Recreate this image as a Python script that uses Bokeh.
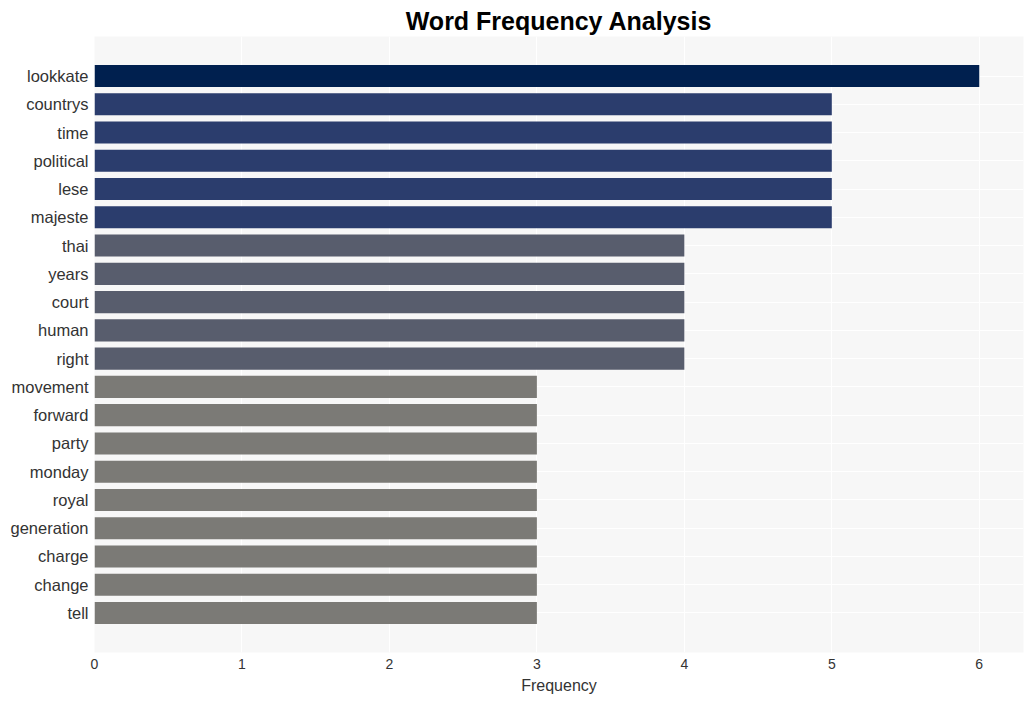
from bokeh.plotting import figure
from bokeh.models import FactorRange, Range1d, ColumnDataSource, FixedTicker
from bokeh.embed import file_html
from bokeh.resources import INLINE

words = ["lookkate", "countrys", "time", "political", "lese", "majeste", "thai", "years",
         "court", "human", "right", "movement", "forward", "party", "monday", "royal",
         "generation", "charge", "change", "tell"]
counts = [6, 5, 5, 5, 5, 5, 4, 4, 4, 4, 4, 3, 3, 3, 3, 3, 3, 3, 3, 3]
color_by_count = {6: "#00204f", 5: "#2b3d6d", 4: "#585d6d", 3: "#7b7a76"}
colors = [color_by_count[c] for c in counts]
x_ticks = [0, 1, 2, 3, 4, 5, 6]

src = ColumnDataSource(dict(word=words, count=counts, color=colors))

p = figure(width=1033, height=701, output_backend="svg", toolbar_location=None,
           y_range=FactorRange(factors=list(reversed(words)), range_padding=0.09),
           x_range=Range1d(0, 6.3),
           min_border_left=94, min_border_right=10, min_border_top=36, min_border_bottom=49)

p.hbar(y="word", right="count", height=0.78, left=0, color="color", source=src, line_color=None)

p.title.text = "Word Frequency Analysis"
p.title.align = "center"
p.title.text_font = "Liberation Sans"
p.title.text_font_size = "25px"
p.title.text_font_style = "bold"
p.title.text_color = "#000000"
p.title.standoff = 4

p.background_fill_color = "#f7f7f7"
p.border_fill_color = "#ffffff"
p.outline_line_color = None

p.xgrid.grid_line_color = "#ffffff"
p.ygrid.grid_line_color = "#ffffff"
p.xgrid.grid_line_width = 1
p.ygrid.grid_line_width = 1
p.xaxis.ticker = FixedTicker(ticks=x_ticks)

for ax in (p.xaxis[0], p.yaxis[0]):
    ax.axis_line_color = None
    ax.major_tick_line_color = None
    ax.minor_tick_line_color = None
    ax.major_label_text_font = "Liberation Sans"
    ax.major_label_text_color = "#333333"

p.yaxis.major_label_text_font_size = "16.5px"
p.xaxis.major_label_text_font_size = "14px"
p.yaxis.major_label_standoff = 0
p.xaxis.major_label_standoff = 0
p.xaxis.axis_label = "Frequency"
p.xaxis.axis_label_text_font = "Liberation Sans"
p.xaxis.axis_label_text_font_size = "16px"
p.xaxis.axis_label_text_font_style = "normal"
p.xaxis.axis_label_text_color = "#333333"
p.xaxis.axis_label_standoff = 5

open("out.html", "w").write(file_html(p, INLINE))
